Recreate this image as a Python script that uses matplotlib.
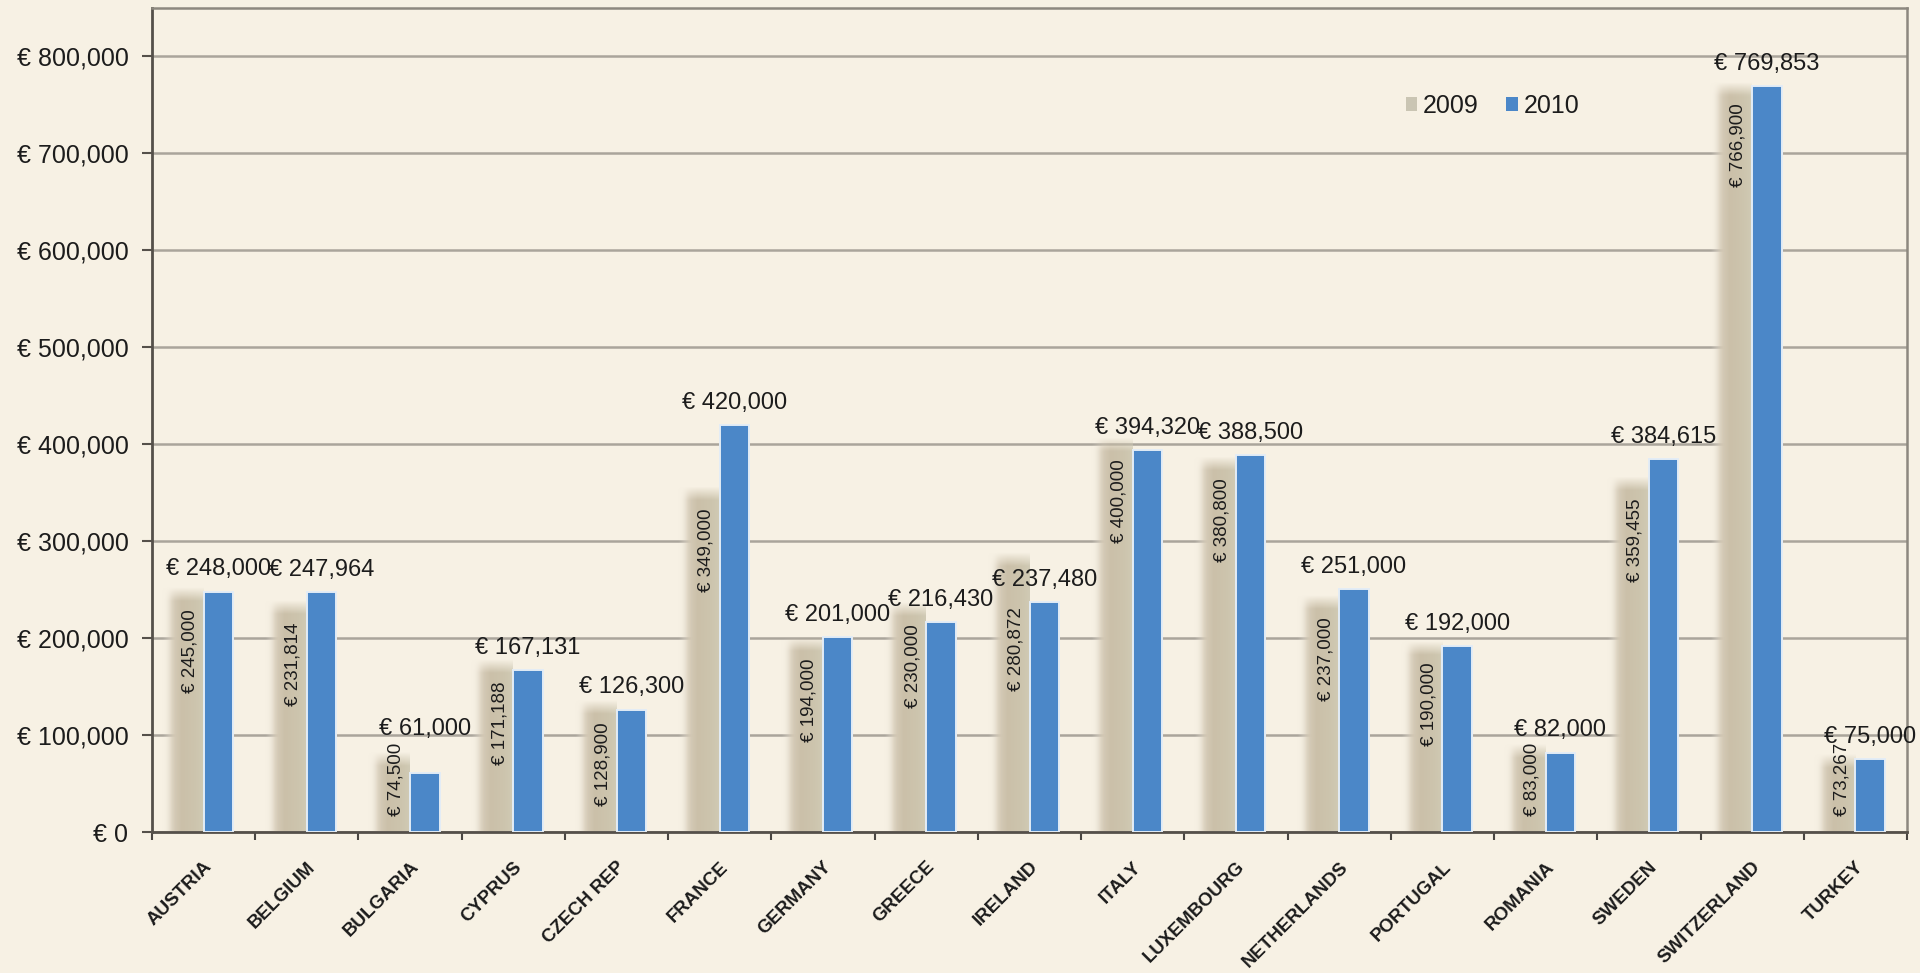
import numpy as np
import matplotlib
matplotlib.use("Agg")
import matplotlib.pyplot as plt
from matplotlib.patches import Patch
from matplotlib.ticker import FuncFormatter, MultipleLocator
from matplotlib.colors import to_rgb

plt.rcParams['font.family'] = ['Liberation Sans', 'DejaVu Sans']

countries = ["AUSTRIA", "BELGIUM", "BULGARIA", "CYPRUS", "CZECH REP", "FRANCE",
             "GERMANY", "GREECE", "IRELAND", "ITALY", "LUXEMBOURG", "NETHERLANDS",
             "PORTUGAL", "ROMANIA", "SWEDEN", "SWITZERLAND", "TURKEY"]
fees_2009 = [245000, 231814, 74500, 171188, 128900, 349000, 194000, 230000, 280872,
             400000, 380800, 237000, 190000, 83000, 359455, 766900, 73267]
fees_2010 = [248000, 247964, 61000, 167131, 126300, 420000, 201000, 216430, 237480,
             394320, 388500, 251000, 192000, 82000, 384615, 769853, 75000]
years = ["2009", "2010"]

BG = "#f7f1e4"
BLUE = "#4b87c8"
TXT = "#1c1c1c"

# labels moved off their default spot so they don't collide with neighbours
label_drop = {"IRELAND": 33000}   # rotated 2009 label, data units lower
label_lift = {"BULGARIA": 16}     # 2010 label, extra points above the bar


def soft_bar(ax, xc, w, h, fringe=0.13):
    """Beige column with blurred left edge and soft top, drawn as an image."""
    x0, x1 = xc - w / 2 - fringe, xc + w / 2
    top = h + 7000
    ncol, nrow = 80, 300
    xs = np.linspace(x0, x1, ncol)
    # colour across the column: light glow -> beige -> darker centre -> greyish right side
    stops = [(x0, "#f6f1e9"), (xc - w / 2 - 0.03, "#d8cebb"), (xc - w / 4, "#cbc0a9"),
             (xc + w / 4, "#cdc5ae"), (x1, "#d0cab5")]
    sx = [s[0] for s in stops]
    cols = np.array([to_rgb(s[1]) for s in stops])
    rgb = np.stack([np.interp(xs, sx, cols[:, k]) for k in range(3)], axis=-1)
    a_h = np.clip((xs - x0) / (fringe + 0.02), 0, 1)
    a_h = a_h * a_h * (3 - 2 * a_h)
    ys = np.linspace(0, top, nrow)
    a_v = np.clip((top - ys) / 14000, 0, 1)
    img = np.zeros((nrow, ncol, 4))
    img[..., :3] = rgb[None, :, :]
    img[..., 3] = a_v[:, None] * a_h[None, :]
    ax.imshow(img, extent=(x0, x1, 0, top), origin="lower", aspect="auto",
              interpolation="bilinear", zorder=2)


fig = plt.figure(figsize=(19.2, 9.73), dpi=100, facecolor=BG)
ax = fig.add_axes([152 / 1920, 141 / 973, 1755 / 1920, 824 / 973], facecolor=BG)

x = np.arange(len(countries))
w = 0.285
off = w / 2

for xi, name, v in zip(x, countries, fees_2009):
    soft_bar(ax, xi - off, w, v)
    ytop = max(v - 15500 - label_drop.get(name, 0), 92000)
    ax.text(xi - off + 0.01, ytop, f"€ {v:,}", rotation=90, ha="center", va="top",
            fontsize=13.5, color=TXT, zorder=5)

bars = ax.bar(x + off, fees_2010, width=w, color=BLUE, edgecolor="#e3ecf6",
              linewidth=1.4, zorder=3)
for b, name, v in zip(bars, countries, fees_2010):
    ax.annotate(f"€ {v:,}", (b.get_x() + b.get_width() / 2, v),
                xytext=(0, 8 + label_lift.get(name, 0)),
                textcoords="offset points", ha="center", va="bottom",
                fontsize=17, color=TXT, zorder=5)

ax.set_xlim(-0.5, len(countries) - 0.5)
ax.set_ylim(0, 850000)

ax.yaxis.set_major_locator(MultipleLocator(100000))
ax.yaxis.set_major_formatter(FuncFormatter(lambda v, _: f"€ {int(v):,}"))
ax.yaxis.grid(True, color="#aaa59b", linewidth=1.8)
ax.set_axisbelow(True)
ax.tick_params(axis="y", length=7, width=1.5, color="#55504a", pad=10,
               labelsize=18, labelcolor=TXT)

ax.set_xticks(x)
ax.set_xticklabels(countries, rotation=45, ha="right", rotation_mode="anchor",
                   fontsize=13.5, fontweight="bold", color=TXT)
ax.set_xticks(np.arange(len(countries) + 1) - 0.5, minor=True)
ax.tick_params(axis="x", which="major", length=0, pad=19)
ax.tick_params(axis="x", which="minor", length=6, width=1.5, color="#4a4642")

for side in ["top", "right"]:
    ax.spines[side].set_color("#8d887f")
    ax.spines[side].set_linewidth(1.8)
for side in ["left", "bottom"]:
    ax.spines[side].set_color("#55504a")
    ax.spines[side].set_linewidth(2)

handles = [Patch(facecolor="#cac5b3", edgecolor="none"),
           Patch(facecolor=BLUE, edgecolor="none")]
fig.legend(handles, years, loc="center left",
           bbox_to_anchor=(1393 / 1920, 1 - 106 / 973), ncol=2, frameon=False,
           fontsize=18, handlelength=0.45, handleheight=0.45, handletextpad=0.25,
           columnspacing=1.1, borderpad=0, labelcolor=TXT)

fig.savefig("out.png", dpi=100, facecolor=BG)
